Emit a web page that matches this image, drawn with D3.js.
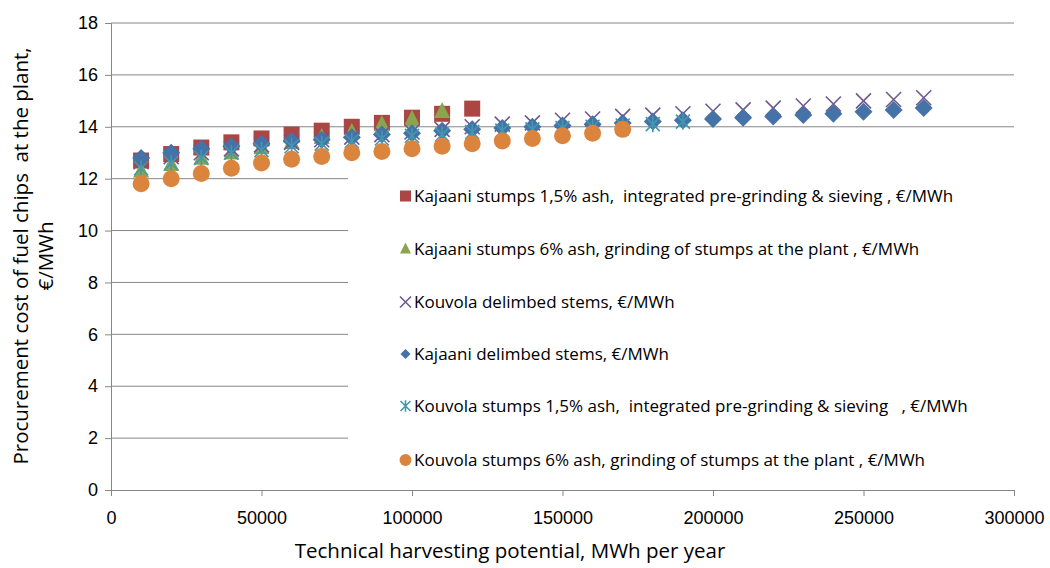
<!DOCTYPE html>
<html lang="en">
<head>
<meta charset="UTF-8">
<title>Procurement cost of fuel chips</title>
<script src="https://d3js.org/d3.v7.min.js"></script>
<style>
    body { margin: 0; padding: 0; background: #fff; }
    svg { display: block; font-family: "Open Sans", "Liberation Sans", sans-serif; }
    .tick text { font-size: 18px; fill: #000; }
</style>
</head>
<body>
<svg width="1050" height="568"></svg>
<script>
const xValues = [10000, 20000, 30000, 40000, 50000, 60000, 70000, 80000, 90000, 100000,
                 110000, 120000, 130000, 140000, 150000, 160000, 170000, 180000, 190000, 200000,
                 210000, 220000, 230000, 240000, 250000, 260000, 270000];

const kajaaniStumps15 = [12.7, 12.95, 13.2, 13.4, 13.55, 13.7, 13.85, 14.0, 14.15, 14.35, 14.5, 14.7];
const kajaaniStumps6 = [12.3, 12.55, 12.8, 13.0, 13.2, 13.4, 13.6, 13.8, 14.1, 14.3, 14.6];
const kouvolaStems = [12.65, 12.85, 13.0, 13.15, 13.3, 13.4, 13.5, 13.6, 13.7, 13.8, 13.9, 14.0, 14.1, 14.15,
                      14.25, 14.3, 14.4, 14.45, 14.5, 14.6, 14.65, 14.72, 14.8, 14.88, 15.0, 15.05, 15.12];
const kajaaniStems = [12.8, 13.0, 13.15, 13.25, 13.35, 13.45, 13.5, 13.6, 13.7, 13.75, 13.85, 13.9, 13.95, 14.0,
                      14.05, 14.1, 14.15, 14.2, 14.25, 14.3, 14.35, 14.4, 14.45, 14.5, 14.58, 14.65, 14.72];
const kouvolaStumps15 = [12.4, 12.6, 12.8, 13.0, 13.1, 13.25, 13.35, 13.45, 13.55, 13.65, 13.7, 13.8, 13.85,
                         13.9, 13.95, 14.0, 14.05, 14.1, 14.2];
const kouvolaStumps6 = [11.8, 12.0, 12.2, 12.4, 12.6, 12.75, 12.85, 13.0, 13.05, 13.15, 13.25, 13.35, 13.45,
                        13.55, 13.65, 13.75, 13.9];

const seriesNames = [
    "Kajaani stumps 1,5% ash,  integrated pre-grinding & sieving , €/MWh",
    "Kajaani stumps 6% ash, grinding of stumps at the plant , €/MWh",
    "Kouvola delimbed stems, €/MWh",
    "Kajaani delimbed stems, €/MWh",
    "Kouvola stumps 1,5% ash,  integrated pre-grinding & sieving   , €/MWh",
    "Kouvola stumps 6% ash, grinding of stumps at the plant , €/MWh"
];
const seriesValues = [kajaaniStumps15, kajaaniStumps6, kouvolaStems, kajaaniStems, kouvolaStumps15, kouvolaStumps6];
const seriesColors = ["#AA4643", "#89A54E", "#71588F", "#4572A7", "#4198AF", "#DB843D"];
const seriesMarkers = ["square", "triangle", "x", "diamond", "star", "circle"];

const xTicks = [0, 50000, 100000, 150000, 200000, 250000, 300000];
const yTicks = [0, 2, 4, 6, 8, 10, 12, 14, 16, 18];

const svg = d3.select("svg");
const plotLeft = 111, plotRight = 1014, plotTop = 23, plotBottom = 490;

const x = d3.scaleLinear().domain([0, 300000]).range([plotLeft, plotRight]);
const y = d3.scaleLinear().domain([0, 18]).range([plotBottom, plotTop]);

// gridlines
svg.append("g").selectAll("line")
    .data(yTicks.filter(d => d > 0))
    .enter().append("line")
    .attr("x1", plotLeft).attr("x2", plotRight)
    .attr("y1", d => y(d)).attr("y2", d => y(d))
    .attr("stroke", "#868686").attr("stroke-width", 1);

// legend box covers part of the grid
const legendX = 348;
svg.append("rect")
    .attr("x", legendX).attr("y", 162)
    .attr("width", plotRight - legendX + 1).attr("height", 318)
    .attr("fill", "#fff");

// axes
const xAxis = svg.append("g")
    .attr("transform", "translate(0," + plotBottom + ")")
    .call(d3.axisBottom(x).tickValues(xTicks).tickFormat(d3.format("d")).tickSizeOuter(0).tickSize(6).tickPadding(15));
const yAxis = svg.append("g")
    .attr("transform", "translate(" + plotLeft + ",0)")
    .call(d3.axisLeft(y).tickValues(yTicks).tickSizeOuter(0).tickSize(6).tickPadding(7));
[xAxis, yAxis].forEach(a => {
    a.select(".domain").attr("stroke", "#868686");
    a.selectAll(".tick line").attr("stroke", "#868686");
});

// marker drawing
function drawMarker(g, type, color, s) {
    if (type === "square") {
        g.append("rect").attr("x", -s / 2).attr("y", -s / 2).attr("width", s).attr("height", s)
            .attr("fill", color);
    } else if (type === "triangle") {
        g.append("path").attr("d", `M0,${-s * 0.58}L${s / 2},${s * 0.42}L${-s / 2},${s * 0.42}Z`)
            .attr("fill", color);
    } else if (type === "diamond") {
        const h = s / 2;
        g.append("path").attr("d", `M0,${-h}L${h},0L0,${h}L${-h},0Z`).attr("fill", color);
    } else if (type === "x") {
        const h = s / 2;
        g.append("path").attr("d", `M${-h},${-h}L${h},${h}M${h},${-h}L${-h},${h}`)
            .attr("stroke", color).attr("stroke-width", 1.6).attr("fill", "none");
    } else if (type === "star") {
        const h = s / 2;
        g.append("path").attr("d", `M${-h},${-h}L${h},${h}M${h},${-h}L${-h},${h}M0,${-h * 1.15}L0,${h * 1.15}`)
            .attr("stroke", color).attr("stroke-width", 1.6).attr("fill", "none");
    } else if (type === "circle") {
        g.append("circle").attr("r", s / 2).attr("fill", color);
    }
}

const plotSizes = { square: 16, triangle: 16, x: 15, diamond: 18, star: 14, circle: 17 };
const legendSizes = { square: 11, triangle: 11, x: 11, diamond: 10, star: 10, circle: 12 };

seriesValues.forEach((vals, i) => {
    const g = svg.append("g");
    vals.forEach((v, j) => {
        const m = g.append("g").attr("transform", `translate(${x(xValues[j])},${y(v)})`);
        drawMarker(m, seriesMarkers[i], seriesColors[i], plotSizes[seriesMarkers[i]]);
    });
});

// legend
const legendRowY = [196, 249, 302, 354, 406, 460];
seriesNames.forEach((name, i) => {
    const m = svg.append("g").attr("transform", `translate(405.5,${legendRowY[i]})`);
    drawMarker(m, seriesMarkers[i], seriesColors[i], legendSizes[seriesMarkers[i]]);
    svg.append("text")
        .attr("x", 414).attr("y", legendRowY[i] + 5.5)
        .attr("font-size", 17)
        .attr("fill", "#000")
        .style("white-space", "pre")
        .text(name);
});

// axis titles
svg.append("text")
    .attr("x", 510).attr("y", 558)
    .attr("text-anchor", "middle")
    .attr("font-size", 20.5)
    .text("Technical harvesting potential, MWh per year");

const yTitle = svg.append("text")
    .attr("transform", "translate(28,256) rotate(-90)")
    .attr("text-anchor", "middle")
    .attr("font-size", 20.5)
    .style("white-space", "pre");
yTitle.append("tspan").attr("x", 0).attr("dy", 0).text("Procurement cost of fuel chips  at the plant,");
yTitle.append("tspan").attr("x", 0).attr("dy", 25).text("€/MWh");
</script>
</body>
</html>
